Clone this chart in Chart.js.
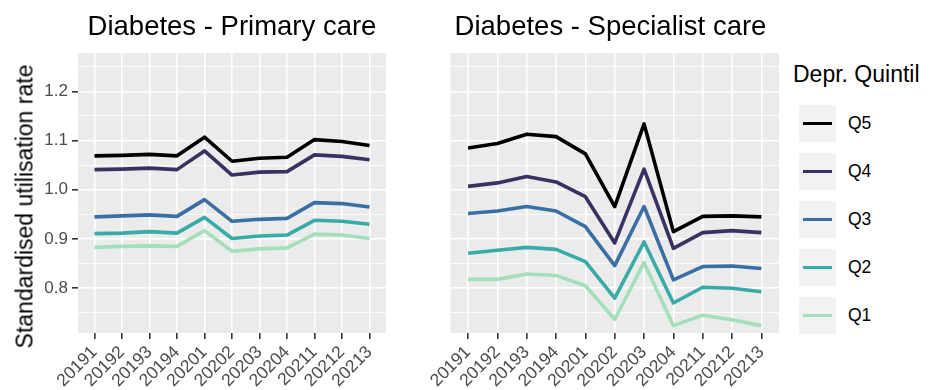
<!DOCTYPE html>
<html>
<head>
<meta charset="utf-8">
<script src="https://cdn.jsdelivr.net/npm/chart.js@4.4.1/dist/chart.umd.min.js"></script>
<style>
  html, body { margin: 0; padding: 0; background: #ffffff; }
  #wrap { position: relative; width: 939px; height: 390px; overflow: hidden; font-family: "Liberation Sans", Arial, sans-serif; }
  canvas { position: absolute; top: 0; }
  .ptitle { position: absolute; top: 12px; font-size: 27.5px; line-height: 27px; color: #000; text-align: center; white-space: nowrap; }
  #ytitle { position: absolute; width: 340px; left: -145px; top: 194.5px; font-size: 23px; line-height: 23px; color: #000; text-align: center; transform: rotate(-90deg); white-space: nowrap; }
  #legtitle { position: absolute; left: 793px; top: 63px; font-size: 23px; line-height: 22px; color: #000; white-space: nowrap; }
  .key { position: absolute; left: 799px; width: 37px; height: 37px; background: #f2f2f2; }
  .key span { position: absolute; left: 4px; width: 29px; height: 3.6px; top: 16.7px; }
  .klab { position: absolute; left: 848px; height: 37px; line-height: 37px; font-size: 17.5px; color: #000; }
</style>
</head>
<body>
<div id="wrap">
  <canvas id="c1" width="400" height="390" style="left:0px"></canvas>
  <canvas id="c2" width="360" height="390" style="left:430px"></canvas>
  <div class="ptitle" id="t1" style="left:78px; width:308px"></div>
  <div class="ptitle" id="t2" style="left:442px; width:337px"></div>
  <div id="ytitle"></div>
  <div id="legtitle"></div>
  <div id="legend"></div>
</div>
<script>
// ---- Data ----
const periods = ['20191','20192','20193','20194','20201','20202','20203','20204','20211','20212','20213'];
const quintiles = ['Q5','Q4','Q3','Q2','Q1'];
const colors = ['#000000','#3c3062','#3a6fa5','#38aba8','#a3dfbb'];
const panelTitles = ['Diabetes - Primary care','Diabetes - Specialist care'];
const yTitle = 'Standardised utilisation rate';
const legendTitle = 'Depr. Quintil';
const yMajor = [0.8, 0.9, 1.0, 1.1, 1.2];
const yMinor = [0.75, 0.85, 0.95, 1.05, 1.15, 1.25];

// Primary care
const primQ5 = [1.069,1.070,1.072,1.069,1.107,1.058,1.064,1.066,1.102,1.098,1.090];
const primQ4 = [1.041,1.042,1.044,1.041,1.079,1.030,1.036,1.037,1.071,1.068,1.061];
const primQ3 = [0.945,0.947,0.949,0.946,0.980,0.936,0.940,0.942,0.974,0.972,0.965];
const primQ2 = [0.911,0.912,0.915,0.912,0.944,0.901,0.906,0.908,0.938,0.936,0.930];
const primQ1 = [0.883,0.885,0.886,0.885,0.917,0.875,0.880,0.882,0.910,0.908,0.901];
// Specialist care
const specQ5 = [1.085,1.094,1.113,1.108,1.073,0.966,1.134,0.915,0.946,0.947,0.945];
const specQ4 = [1.007,1.014,1.027,1.016,0.986,0.892,1.042,0.881,0.913,0.917,0.913];
const specQ3 = [0.952,0.957,0.966,0.957,0.925,0.846,0.966,0.817,0.844,0.845,0.840];
const specQ2 = [0.871,0.877,0.883,0.879,0.854,0.780,0.894,0.770,0.802,0.800,0.793];
const specQ1 = [0.818,0.818,0.829,0.826,0.805,0.737,0.852,0.724,0.745,0.736,0.724];

const primSeries = [primQ5, primQ4, primQ3, primQ2, primQ1];
const specSeries = [specQ5, specQ4, specQ3, specQ2, specQ1];

// ---- Text ----
document.getElementById('t1').textContent = panelTitles[0];
document.getElementById('t2').textContent = panelTitles[1];
document.getElementById('ytitle').textContent = yTitle;
document.getElementById('legtitle').textContent = legendTitle;
const leg = document.getElementById('legend');
quintiles.forEach((q, i) => {
  const top = 105 + i * 48;
  const k = document.createElement('div');
  k.className = 'key'; k.style.top = top + 'px';
  const s = document.createElement('span'); s.style.background = colors[i];
  k.appendChild(s); leg.appendChild(k);
  const l = document.createElement('div');
  l.className = 'klab'; l.style.top = top + 'px'; l.textContent = q;
  leg.appendChild(l);
});

// ---- Charts ----
const panelBg = {
  id: 'panelBg',
  beforeDraw(chart) {
    const { ctx, chartArea: a } = chart;
    ctx.save();
    ctx.fillStyle = '#ebebeb';
    ctx.fillRect(a.left, a.top, a.right - a.left, a.bottom - a.top);
    ctx.restore();
  }
};

const yAll = yMajor.concat(yMinor).sort((a, b) => a - b);
const isMajor = v => yMajor.some(m => Math.abs(m - v) < 1e-9);

function makeChart(id, series, showY, padding) {
  const datasets = series.map((vals, i) => ({
    label: quintiles[i],
    data: vals.map((v, j) => ({ x: j, y: v })),
    borderColor: colors[i],
    borderWidth: 3.6,
    pointRadius: 0,
    tension: 0,
    borderJoinStyle: 'round',
    borderCapStyle: 'butt',
    fill: false,
    order: -i
  }));
  return new Chart(document.getElementById(id), {
    type: 'line',
    data: { datasets },
    plugins: [panelBg],
    options: {
      responsive: false,
      animation: false,
      devicePixelRatio: 1,
      layout: { padding },
      plugins: { legend: { display: false }, tooltip: { enabled: false }, title: { display: false } },
      scales: {
        x: {
          type: 'linear',
          min: -0.6, max: 10.6,
          afterBuildTicks: s => { s.ticks = periods.map((_, i) => ({ value: i })); },
          afterFit: s => { s.height = 57; },
          border: { display: false },
          grid: { color: '#ffffff', lineWidth: 1.6, tickColor: '#333333', tickLength: 6, drawTicks: true },
          ticks: {
            autoSkip: false, minRotation: 45, maxRotation: 45,
            padding: 3,
            color: '#4d4d4d',
            font: { family: '"Liberation Sans", Arial, sans-serif', size: 17.5 },
            callback: (v, idx) => periods[idx]
          }
        },
        y: {
          type: 'linear',
          min: 0.709, max: 1.278,
          afterBuildTicks: s => { s.ticks = yAll.map(v => ({ value: v })); },
          afterFit: s => { s.width = showY ? 78 : 0; },
          border: { display: false },
          grid: {
            color: '#ffffff',
            lineWidth: c => (c.tick && isMajor(c.tick.value)) ? 1.6 : 0.8,
            tickColor: c => (c.tick && isMajor(c.tick.value)) ? '#333333' : 'rgba(0,0,0,0)',
            tickLength: 6,
            drawTicks: showY
          },
          ticks: {
            display: showY,
            padding: 4,
            color: '#4d4d4d',
            font: { family: '"Liberation Sans", Arial, sans-serif', size: 17 },
            callback: v => isMajor(v) ? v.toFixed(1) : ''
          }
        }
      }
    }
  });
}

makeChart('c1', primSeries, true, { left: 0, top: 53, right: 14, bottom: 0 });
makeChart('c2', specSeries, false, { left: 12, top: 53, right: 11, bottom: 0 });
</script>
</body>
</html>
